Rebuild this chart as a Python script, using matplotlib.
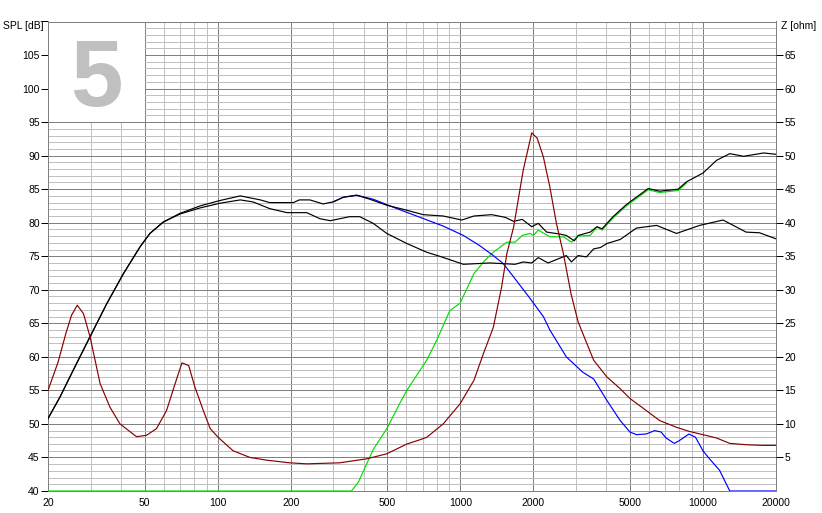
import numpy as np
import matplotlib
matplotlib.use("Agg")
import matplotlib.pyplot as plt
from matplotlib.patches import Rectangle
from matplotlib.ticker import FixedLocator, NullFormatter

# ---------------- data ----------------
freq_black_hi = [20, 22.4, 25.4, 29.8, 34.9, 40.9, 47.9, 52.6, 59.7, 70, 84.6, 102, 124, 150, 164, 205, 217,
                 240, 272, 299, 330, 374, 424, 498, 582, 703, 850, 1015, 1138, 1348, 1532, 1660, 1800, 1970,
                 2096, 2270, 2580, 2735, 2950, 3060, 3430, 3660, 3840, 4260, 4800, 5000, 5950, 6630, 7900,
                 8560, 10000, 11380, 12900, 14700, 17800, 20000]
spl_black_hi = [50.8, 54.0, 58.0, 63.0, 67.9, 72.4, 76.4, 78.4, 80.1, 81.4, 82.5, 83.3, 84.0, 83.4, 83.0, 83.0,
                83.4, 83.4, 82.8, 83.1, 83.8, 84.1, 83.5, 82.6, 82.0, 81.2, 81.0, 80.4, 81.0, 81.2, 80.8, 80.2,
                80.5, 79.4, 79.9, 78.6, 78.3, 78.1, 77.3, 78.1, 78.6, 79.4, 79.1, 80.9, 82.6, 83.1, 85.1, 84.7,
                85.0, 86.1, 87.4, 89.3, 90.3, 89.9, 90.4, 90.2]

freq_black_lo = [20, 22.4, 25.4, 29.8, 34.9, 40.9, 47.9, 52.6, 59.7, 70, 84.6, 102, 124, 140, 164, 193, 233,
                 264, 291, 350, 385, 438, 498, 602, 727, 822, 1030, 1326, 1683, 1816, 1970, 2096, 2300, 2735,
                 2870, 3060, 3310, 3545, 3780, 4020, 4560, 5320, 6440, 7780, 9690, 12100, 15060, 17100, 20000]
spl_black_lo = [50.8, 54.0, 58.0, 63.0, 67.9, 72.4, 76.4, 78.4, 80.1, 81.3, 82.2, 82.9, 83.4, 83.1, 82.1, 81.5,
                81.5, 80.6, 80.3, 80.9, 80.9, 79.9, 78.4, 76.9, 75.6, 75.0, 73.8, 74.0, 73.8, 74.15, 74.0, 74.8,
                74.0, 75.1, 74.15, 75.1, 74.9, 76.1, 76.3, 76.9, 77.5, 79.2, 79.6, 78.4, 79.6, 80.4, 78.6, 78.5,
                77.6]

freq_blue = [299, 330, 374, 438, 548, 683, 850, 1030, 1200, 1368, 1504, 1660, 1940, 2200, 2340, 2735, 3200,
             3545, 4020, 4560, 5000, 5320, 5840, 6320, 6720, 7050, 7620, 7980, 8760, 9320, 10000, 10640, 11700,
             12900, 20000]
spl_blue = [83.1, 83.8, 84.1, 83.5, 82.1, 80.8, 79.5, 78.1, 76.6, 75.1, 73.9, 71.9, 68.7, 66.0, 64.0, 60.0,
            57.7, 56.7, 53.5, 50.5, 48.8, 48.4, 48.5, 49.0, 48.8, 47.9, 47.1, 47.5, 48.5, 48.0, 46.0, 44.8,
            43.1, 40.0, 40.0]

freq_green = [20, 356, 380, 438, 498, 562, 602, 727, 800, 906, 998, 1138, 1246, 1368, 1556, 1683, 1800, 1940,
              2000, 2096, 2340, 2660, 2870, 3060, 3430, 3660, 3840, 4260, 4800, 5000, 5950, 6630, 7900, 8560]
spl_green = [40.0, 40.0, 41.3, 46.2, 49.3, 53.0, 55.0, 59.5, 62.5, 66.9, 68.0, 72.4, 74.15, 75.6, 77.1, 77.1,
             78.1, 78.4, 78.1, 78.9, 77.9, 77.9, 77.1, 78.0, 78.1, 79.4, 78.9, 80.7, 82.4, 82.9, 84.9, 84.5,
             84.8, 85.9]

freq_z = [20, 22, 23.7, 25.0, 26.4, 28.0, 29.8, 32.8, 36.0, 39.6, 46.3, 50.9, 56.0, 61.6, 66.8, 71.3, 76.0,
          80.6, 87.3, 93.2, 100.5, 115.8, 136, 159, 198, 233, 318, 412, 498, 602, 683, 727, 850, 998, 1138,
          1246, 1368, 1480, 1556, 1660, 1816, 1925, 1970, 2075, 2200, 2340, 2490, 2660, 2860, 3060, 3545,
          4020, 4560, 5000, 5840, 6630, 7780, 8760, 10000, 11380, 12900, 15060, 17800, 20000]
z_ohm = [15.0, 19.2, 23.5, 26.2, 27.7, 26.45, 23.0, 16.0, 12.5, 10.0, 8.1, 8.3, 9.3, 12.0, 16.0, 19.1, 18.7,
         15.5, 12.0, 9.3, 8.0, 6.0, 5.0, 4.6, 4.2, 4.05, 4.2, 4.8, 5.55, 7.0, 7.65, 8.0, 10.0, 13.0, 16.5,
         20.5, 24.4, 30.4, 35.4, 39.4, 47.8, 51.8, 53.4, 52.6, 49.8, 45.3, 39.9, 35.4, 29.4, 25.2, 19.5,
         17.0, 15.25, 13.8, 12.0, 10.5, 9.5, 8.9, 8.4, 7.9, 7.1, 6.9, 6.8, 6.8]

x_major = [20, 50, 100, 200, 500, 1000, 2000, 5000, 10000, 20000]
x_labels = ["20", "50", "100", "200", "500", "1000", "2000", "5000", "10000", "20000"]
spl_ticks = list(range(40, 110, 5))
z_ticks = list(range(5, 70, 5))

# ---------------- figure ----------------
W, H = 822, 513
fig = plt.figure(figsize=(W / 100, H / 100), dpi=100)
fig.patch.set_facecolor("white")
L, R, T, B = 48, 776, 21.5, 491
ax = fig.add_axes([L / W, 1 - B / H, (R - L) / W, (B - T) / H])
ax.set_xscale("log")
ax.set_xlim(20, 20000)
ax.set_ylim(40, 110)

FONT = "Liberation Sans"
FS = 7.5
px = 0.72
major_c = "#808080"
minor_c = "#c0c0c0"

ax.set_axisbelow(True)
ax.xaxis.set_major_locator(FixedLocator(x_major))
ax.xaxis.set_minor_locator(FixedLocator(
    [m * d for d in (1, 10, 100, 1000) for m in range(2, 10) if 20 <= m * d <= 20000 and m * d not in x_major]))
ax.xaxis.set_minor_formatter(NullFormatter())
ax.set_xticklabels(x_labels, fontname=FONT, fontsize=FS)
ax.yaxis.set_minor_locator(FixedLocator([v for v in range(40, 111) if v % 5]))
ax.set_yticks(list(range(40, 111, 5)))
ax.set_yticklabels([str(v) if v in spl_ticks else "" for v in range(40, 111, 5)], fontname=FONT, fontsize=FS)

ax.grid(True, which="minor", color=minor_c, lw=px)
ax.grid(True, which="major", color=major_c, lw=px)
ax.tick_params(axis="x", which="both", length=0, pad=5)
ax.tick_params(axis="y", which="major", length=5, width=px, color="black", pad=1, direction="out")
ax.tick_params(axis="y", which="minor", length=0)
for s in ax.spines.values():
    s.set_color(major_c)
    s.set_linewidth(px)

# white label box with the big "5"
ax.add_patch(Rectangle((20, 95), 30, 15, facecolor="white", edgecolor="none", zorder=1.5))
ax.text(np.sqrt(20 * 50), 97.45, "5", fontname=FONT, fontweight="bold", fontsize=68, color="#c0c0c0",
        ha="center", va="baseline", zorder=1.6)

lw = 0.85
ax.plot(freq_green, spl_green, color="#00dd00", lw=lw, zorder=3)
ax.plot(freq_blue, spl_blue, color="#0000ff", lw=lw, zorder=3)
ax.plot(freq_black_lo, spl_black_lo, color="black", lw=lw, zorder=4)
ax.plot(freq_black_hi, spl_black_hi, color="black", lw=lw, zorder=4)

ax2 = ax.twinx()
ax2.set_ylim(0, 70)
ax2.set_xlim(20, 20000)
ax2.set_yticks(z_ticks)
ax2.set_yticklabels([str(v) for v in z_ticks], fontname=FONT, fontsize=FS)
ax2.tick_params(axis="y", length=5, width=px, color="black", pad=1, direction="out")
for s in ax2.spines.values():
    s.set_visible(False)
ax2.plot(freq_z, z_ohm, color="#880000", lw=lw, zorder=3)

fig.text(3 / W, 1 - 26 / H, "SPL [dB]", fontname=FONT, fontsize=FS, ha="left", va="center")
fig.text(781 / W, 1 - 26 / H, "Z [ohm]", fontname=FONT, fontsize=FS, ha="left", va="center")

fig.savefig("out.png", dpi=100)
